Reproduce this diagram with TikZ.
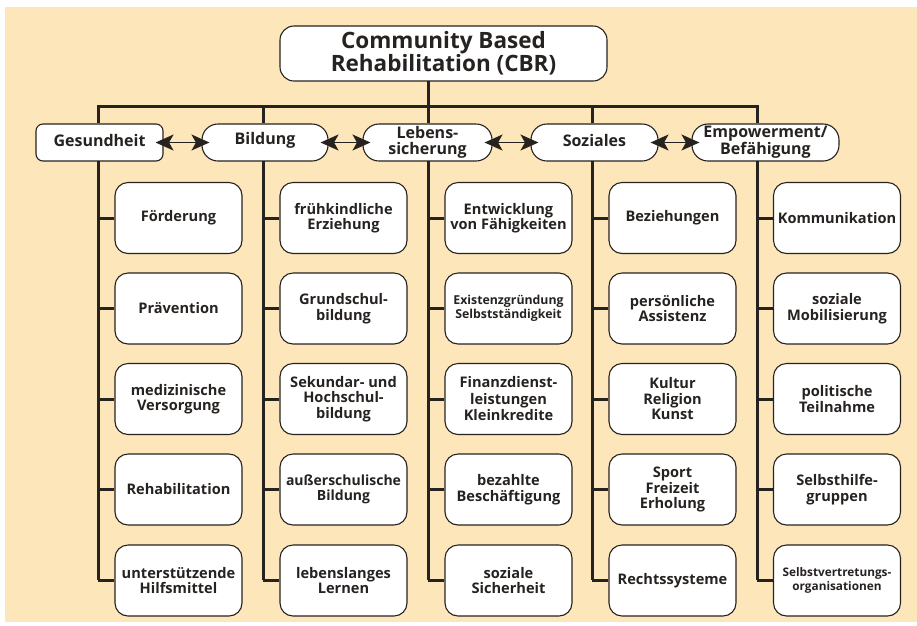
\documentclass[tikz,border=0pt]{standalone}
\usepackage{fontspec}
\setmainfont{Open Sans}
\usetikzlibrary{arrows.meta}
\definecolor{bgbeige}{RGB}{253,231,186}
\definecolor{ink}{RGB}{38,34,32}
\newcommand{\upl}[1]{\raisebox{2pt}[\height][\depth]{#1}}
\tikzset{
  base/.style={draw=ink, line width=1.1pt, fill=white, text=ink, align=center, inner sep=0pt},
  titlebox/.style={base, minimum width=327pt, minimum height=55pt, rounded corners=14pt,
    font={\fontsize{22.5}{23}\selectfont\bfseries}},
  catbox/.style={base, minimum height=37pt, rounded corners=16pt,
    font={\fontsize{16}{16}\selectfont\bfseries}},
  itembox/.style={base, minimum width=127pt, minimum height=71pt, rounded corners=13pt,
    font={\fontsize{14.6}{15.5}\selectfont\bfseries}},
  smalltxt/.style={font={\fontsize{12.3}{14.5}\selectfont\bfseries}},
  trunk/.style={draw=ink, line width=3pt},
  dblarrow/.style={draw=ink, line width=1.3pt, shorten <=-8pt, shorten >=-8pt,
    {Stealth[length=18pt,width=16pt,inset=4.5pt]}-{Stealth[length=18pt,width=16pt,inset=4.5pt]}}
}
\begin{document}
\begin{tikzpicture}[x=1pt,y=-1pt]
\useasboundingbox (0,0) rectangle (917,625);
\fill[bgbeige] (5,7) rectangle (917,622);

% title
\node[titlebox] (title) at (443.5,53.5) {Community Based\\Rehabilitation (CBR)};

% categories
\node[catbox, minimum width=127pt, rounded corners=7pt] (ges) at (99.5,142.5) {\upl{Gesundheit}};
\node[catbox, minimum width=126pt] (bil) at (265,142.5) {\upl{Bildung}};
\node[catbox, minimum width=129pt] (leb) at (427.5,142.5) {Lebens-\\sicherung};
\node[catbox, minimum width=127pt] (soz) at (594.5,142.5) {\upl{Soziales}};
\node[catbox, minimum width=147pt] (emp) at (765.5,142.5) {Empowerment/\\Befähigung};

% bar coordinates
\coordinate (b1) at (98,106);
\coordinate (b2) at (263,106);
\coordinate (b3) at (428,106);
\coordinate (b4) at (592,106);
\coordinate (b5) at (757,106);
\coordinate (tt) at (428,81);

% column trunk ends
\coordinate (c1) at (98,161);  \coordinate (e1) at (98,580);
\coordinate (c2) at (263,161); \coordinate (e2) at (263,580);
\coordinate (c3) at (428,161); \coordinate (e3) at (428,580);
\coordinate (c4) at (592,161); \coordinate (e4) at (592,580);
\coordinate (c5) at (757,161); \coordinate (e5) at (757,580);

% top connectors
\draw[trunk] (tt) -- (b3);
\draw[trunk, line cap=rect] (b1) -- (b5);
\draw[trunk] (b1) -- (b1 |- ges.north);
\draw[trunk] (b2) -- (b2 |- bil.north);
\draw[trunk] (b3) -- (b3 |- leb.north);
\draw[trunk] (b4) -- (b4 |- soz.north);
\draw[trunk] (b5) -- (b5 |- emp.north);

% arrows between categories
\draw[dblarrow] (ges.east) -- (bil.west);
\draw[dblarrow] (bil.east) -- (leb.west);
\draw[dblarrow] (leb.east) -- (soz.west);
\draw[dblarrow] (soz.east) -- (emp.west);

% column 1
\node[itembox] (g1) at (178.5,218) {Förderung};
\node[itembox] (g2) at (178.5,308.5) {Prävention};
\node[itembox] (g3) at (178.5,399) {medizinische\\Versorgung};
\node[itembox] (g4) at (178.5,489.5) {Rehabilitation};
\node[itembox] (g5) at (178.5,580.5) {unterstützende\\Hilfsmittel};

% column 2
\node[itembox] (h1) at (343.5,218) {frühkindliche\\Erziehung};
\node[itembox] (h2) at (343.5,308.5) {Grundschul-\\bildung};
\node[itembox] (h3) at (343.5,399) {Sekundar- und\\Hochschul-\\bildung};
\node[itembox, font={\fontsize{14}{15.5}\selectfont\bfseries}] (h4) at (343.5,489.5) {außerschulische\\Bildung};
\node[itembox] (h5) at (343.5,580.5) {lebenslanges\\Lernen};

% column 3
\node[itembox] (l1) at (508.5,218) {Entwicklung\\von Fähigkeiten};
\node[itembox, smalltxt] (l2) at (508.5,308.5) {Existenzgründung\\Selbstständigkeit};
\node[itembox, font={\fontsize{14.6}{16.5}\selectfont\bfseries}] (l3) at (508.5,399) {Finanzdienst-\\leistungen\\Kleinkredite};
\node[itembox] (l4) at (508.5,489.5) {bezahlte\\Beschäftigung};
\node[itembox] (l5) at (508.5,580.5) {soziale\\Sicherheit};

% column 4
\node[itembox] (s1) at (672.5,218) {Beziehungen};
\node[itembox] (s2) at (672.5,308.5) {persönliche\\Assistenz};
\node[itembox] (s3) at (672.5,399) {Kultur\\Religion\\Kunst};
\node[itembox] (s4) at (672.5,489.5) {Sport\\Freizeit\\Erholung};
\node[itembox] (s5) at (672.5,580.5) {Rechtssysteme};

% column 5
\node[itembox] (m1) at (837,218) {Kommunikation};
\node[itembox] (m2) at (837,308.5) {soziale\\Mobilisierung};
\node[itembox] (m3) at (837,399) {politische\\Teilnahme};
\node[itembox] (m4) at (837,489.5) {Selbsthilfe-\\gruppen};
\node[itembox, font={\fontsize{11.8}{14.5}\selectfont\bfseries}] (m5) at (837,580.5) {Selbstvertretungs-\\organisationen};

% column trunks and branches
\foreach \c/\e/\p in {c1/e1/g, c2/e2/h, c3/e3/l, c4/e4/s, c5/e5/m}{
  \draw[trunk] (\c) -- (\e);
  \foreach \i in {1,...,5}{
    \draw[trunk] (\c |- \p\i.west) -- (\p\i.west);
  }
}
\end{tikzpicture}
\end{document}
